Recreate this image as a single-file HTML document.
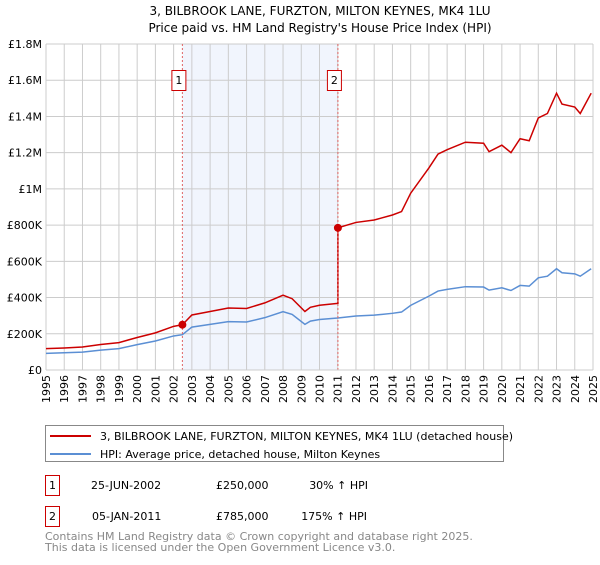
<!DOCTYPE html>
<html><head><meta charset="utf-8"><style>
body{margin:0;background:#fff;font-family:"Liberation Sans","DejaVu Sans",sans-serif;}
svg text{font-family:"DejaVu Sans","Liberation Sans",sans-serif;}
</style></head><body>
<svg id="c" width="600" height="560" xmlns="http://www.w3.org/2000/svg">
<text x="320" y="15" text-anchor="middle" font-size="12" fill="#000">3, BILBROOK LANE, FURZTON, MILTON KEYNES, MK4 1LU</text>
<text x="320" y="32" text-anchor="middle" font-size="12" fill="#000">Price paid vs. HM Land Registry's House Price Index (HPI)</text>
<g id="grid"></g><g id="series"></g><g id="axes"></g>
<g>
<rect x="45.5" y="425.5" width="458" height="36" fill="#fff" stroke="#888"/>
<line x1="50" y1="436" x2="91" y2="436" stroke="#cc0000" stroke-width="2"/>
<text x="100" y="440" font-size="11">3, BILBROOK LANE, FURZTON, MILTON KEYNES, MK4 1LU (detached house)</text>
<line x1="50" y1="454" x2="91" y2="454" stroke="#5b8fd4" stroke-width="2"/>
<text x="100" y="458" font-size="11">HPI: Average price, detached house, Milton Keynes</text>
</g>
<g font-size="11">
<rect x="45.5" y="475.5" width="14" height="20" fill="#fff" stroke="#cc0000"/>
<text x="52.5" y="489" text-anchor="middle">1</text>
<text x="91" y="489">25-JUN-2002</text><text x="216" y="489">£250,000</text><text x="368" y="489" text-anchor="end">30% ↑ HPI</text>
</g>
<g font-size="11">
<rect x="45.5" y="506.5" width="14" height="20" fill="#fff" stroke="#cc0000"/>
<text x="52.5" y="520" text-anchor="middle">2</text>
<text x="92" y="520">05-JAN-2011</text><text x="216" y="520">£785,000</text><text x="367" y="520" text-anchor="end">175% ↑ HPI</text>
</g>
<text x="45" y="540" font-size="11" fill="#888">Contains HM Land Registry data © Crown copyright and database right 2025.</text>
<text x="45" y="551" font-size="11" fill="#888">This data is licensed under the Open Government Licence v3.0.</text>
</svg>
<script>
const hpiYears=[1995,1996,1997,1998,1999,2000,2001,2002,2002.48,2003,2004,2005,2006,2007,2008,2008.5,2009.2,2009.5,2010,2011,2012,2013,2014,2014.5,2015,2016,2016.5,2017,2018,2019,2019.3,2020,2020.5,2021,2021.5,2022,2022.5,2023,2023.3,2024,2024.3,2024.9];
const hpiValues=[92,95,99,110,118,140,160,188,195,237,252,267,265,289,322,307,252,270,279,287,298,303,313,320,357,408,436,445,460,458,441,454,439,467,463,509,518,559,537,531,518,559];
const saleYears=[2002.48,2011.01];
const salePrices=[250,785];
const saleLabels=["1","2"];
const yTicks=[0,200,400,600,800,1000,1200,1400,1600,1800];
const yTickLabels=["£0","£200K","£400K","£600K","£800K","£1M","£1.2M","£1.4M","£1.6M","£1.8M"];
const xTicks=[];for(let y=1995;y<=2025;y++)xTicks.push(y);

const L=46,R=593,T=44,B=370;
const X=y=>L+(y-1995)/(2025-1995)*(R-L);
const Y=v=>B-v/1800*(B-T);
const NS="http://www.w3.org/2000/svg";
function mk(p,t,a){const e=document.createElementNS(NS,t);for(const k in a)e.setAttribute(k,a[k]);p.appendChild(e);return e;}
const grid=document.getElementById('grid'),ser=document.getElementById('series'),ax=document.getElementById('axes');
function hpiAt(t){for(let i=0;i<hpiYears.length-1;i++){if(t<=hpiYears[i+1]){const f=(t-hpiYears[i])/(hpiYears[i+1]-hpiYears[i]);return hpiValues[i]+f*(hpiValues[i+1]-hpiValues[i]);}}return hpiValues[hpiValues.length-1];}

const shade=mk(grid,'rect',{x:X(saleYears[0]),y:T,width:X(saleYears[1])-X(saleYears[0]),height:B-T,fill:'#eef3fc',opacity:0.8});


xTicks.forEach(t=>{const l=mk(grid,'line',{x1:X(t),x2:X(t),y1:T,y2:B,stroke:'#ccc'});

});
yTicks.forEach((t,i)=>{const l=mk(grid,'line',{x1:L,x2:R,y1:Y(t),y2:Y(t),stroke:'#ccc'});


const tx=mk(ax,'text',{x:L-4,y:Y(t)+4,'text-anchor':'end','font-size':11});tx.textContent=yTickLabels[i];

});
xTicks.forEach(t=>{const tx=mk(ax,'text',{transform:`translate(${X(t)+4},${375}) rotate(-90)`,'text-anchor':'end','font-size':11});tx.textContent=t;

});
mk(ax,'line',{x1:L,x2:R,y1:B,y2:B,stroke:'#ccc'});

// HPI line
const hp=hpiYears.map((y,i)=>X(y)+','+Y(hpiValues[i])).join(' ');
const hl=mk(ser,'polyline',{points:hp,fill:'none',stroke:'#5b8fd4','stroke-width':1.5});


// property line indexed to HPI from sales
const pts=[];
const times=[...new Set(hpiYears.concat(saleYears))].sort((a,b)=>a-b);
times.forEach(t=>{let k=0;for(let i=0;i<saleYears.length;i++)if(t>=saleYears[i])k=i;
const r=salePrices[k]/hpiAt(saleYears[k]);
if(t===saleYears[1])pts.push(X(t)+','+Y(hpiAt(t)*salePrices[0]/hpiAt(saleYears[0])));
pts.push(X(t)+','+Y(hpiAt(t)*r));});
const pl=mk(ser,'polyline',{points:pts.join(' '),fill:'none',stroke:'#cc0000','stroke-width':1.5});


saleYears.forEach((s,i)=>{
const v=mk(ser,'line',{x1:X(s),x2:X(s),y1:T,y2:B,stroke:'#e06666','stroke-dasharray':'2,2'});


const c=mk(ser,'circle',{cx:X(s),cy:Y(salePrices[i]),r:4,fill:'#cc0000'});


const b=mk(ser,'rect',{x:X(s)-10.5,y:70.5,width:14,height:20,fill:'#fff',stroke:'#cc0000'});


const tx=mk(ser,'text',{x:X(s)-3.5,y:84,'text-anchor':'middle','font-size':11});tx.textContent=saleLabels[i];


});
</script>
</body></html>
